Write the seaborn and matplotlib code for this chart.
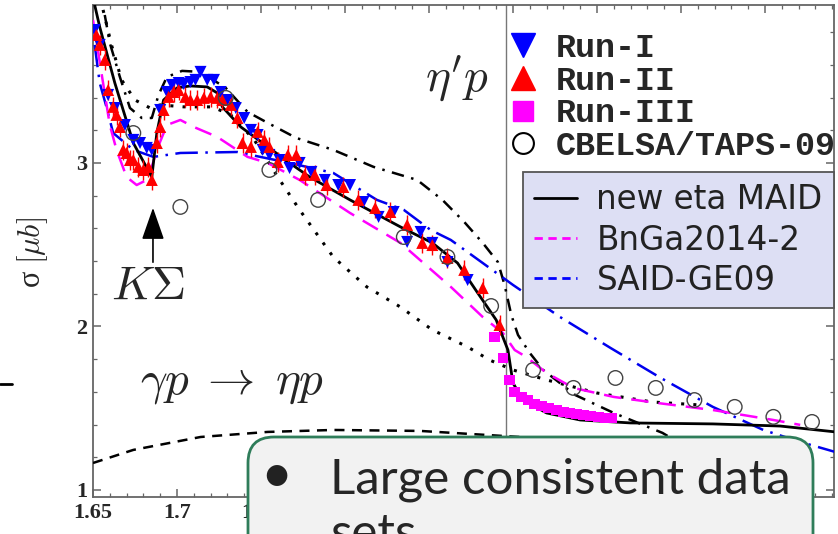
import matplotlib
matplotlib.use("Agg")  # no display here
import matplotlib.pyplot as plt
import seaborn as sns
from matplotlib.lines import Line2D
from matplotlib.patches import FancyBboxPatch
from matplotlib.transforms import IdentityTransform
from matplotlib.ticker import MultipleLocator

sns.set_style("ticks")
plt.rcParams['font.family'] = ['Liberation Serif', 'DejaVu Sans']
plt.rcParams['mathtext.fontset'] = 'cm'

# --- model curves (W in GeV, sigma in mub) ---
maid_w = [1.651, 1.654, 1.663, 1.674, 1.685, 1.688, 1.692, 1.700, 1.708, 1.718, 1.724,
          1.727, 1.738, 1.751, 1.767, 1.779, 1.803, 1.833, 1.852, 1.867, 1.879, 1.890,
          1.897, 1.900, 1.906, 1.920, 1.940, 1.970, 2.019, 2.059, 2.092]
maid_s = [3.966, 3.832, 3.489, 3.122, 2.914, 3.183, 3.385, 3.459, 3.471, 3.465, 3.428,
          3.343, 3.220, 3.122, 3.000, 2.914, 2.774, 2.609, 2.511, 2.388, 2.205, 2.040,
          1.856, 1.654, 1.550, 1.471, 1.428, 1.410, 1.404, 1.391, 1.355]

dashdot_w = [1.657, 1.660, 1.666, 1.672, 1.679, 1.685, 1.689, 1.694, 1.703, 1.714, 1.729,
             1.742, 1.754, 1.771, 1.793, 1.817, 1.843, 1.858, 1.871, 1.882, 1.891, 1.895,
             1.899, 1.903, 1.910, 1.918, 1.937, 1.960, 1.989, 2.011]
dashdot_s = [3.905, 3.734, 3.526, 3.336, 3.275, 3.275, 3.416, 3.526, 3.563, 3.557, 3.459,
             3.312, 3.245, 3.153, 3.080, 2.976, 2.896, 2.774, 2.639, 2.511, 2.394, 2.254,
             2.070, 1.948, 1.838, 1.734, 1.581, 1.471, 1.349, 1.214]

dotted_w = [1.656, 1.661, 1.667, 1.675, 1.684, 1.690, 1.704, 1.721, 1.732, 1.746, 1.760,
            1.773, 1.793, 1.813, 1.833, 1.852, 1.873, 1.886, 1.900, 1.920, 1.950, 1.983, 2.011]
dotted_s = [3.936, 3.722, 3.508, 3.385, 3.336, 3.355, 3.343, 3.343, 3.294, 3.141, 2.914,
            2.713, 2.425, 2.242, 2.119, 1.979, 1.875, 1.795, 1.734, 1.673, 1.593, 1.538, 1.520]

said_w = [1.651, 1.654, 1.658, 1.662, 1.674, 1.686, 1.702, 1.736, 1.744, 1.767, 1.793,
          1.819, 1.835, 1.851, 1.863, 1.882, 1.900, 1.928, 1.958, 1.988, 2.019, 2.049, 2.071, 2.092]
said_s = [3.722, 3.489, 3.343, 3.183, 3.080, 3.037, 3.061, 3.067, 3.049, 3.000, 2.939,
          2.774, 2.713, 2.590, 2.529, 2.388, 2.254, 2.058, 1.869, 1.685, 1.508, 1.367, 1.294, 1.232]

bnga_w = [1.650, 1.656, 1.660, 1.664, 1.670, 1.676, 1.682, 1.685, 1.688, 1.694, 1.702,
          1.710, 1.724, 1.742, 1.754, 1.773, 1.803, 1.833, 1.863, 1.882, 1.894, 1.901,
          1.908, 1.920, 1.936, 1.960, 1.986, 2.019, 2.055, 2.071]
bnga_s = [3.875, 3.489, 3.232, 3.080, 2.914, 2.865, 2.896, 2.976, 3.080, 3.232, 3.263,
          3.220, 3.159, 3.037, 3.000, 2.896, 2.694, 2.511, 2.242, 2.058, 1.960, 1.856,
          1.813, 1.716, 1.624, 1.569, 1.532, 1.489, 1.428, 1.398]

low_w = [1.650, 1.674, 1.714, 1.754, 1.793, 1.845, 1.885, 1.904, 1.952]
low_s = [1.165, 1.245, 1.324, 1.355, 1.367, 1.361, 1.336, 1.324, 1.275]

# --- data sets ---
run1_w = [1.651, 1.654, 1.659, 1.663, 1.669, 1.674, 1.678, 1.682, 1.685, 1.690, 1.694,
          1.697, 1.701, 1.704, 1.708, 1.711, 1.714, 1.718, 1.722, 1.726, 1.730, 1.735,
          1.740, 1.744, 1.748, 1.751, 1.755, 1.761, 1.767, 1.773, 1.780, 1.788, 1.796,
          1.803, 1.811, 1.820, 1.829, 1.837, 1.845, 1.852, 1.861, 1.873]
run1_s = [3.813, 3.722, 3.416, 3.336, 3.232, 3.141, 3.122, 3.092, 3.080, 3.324, 3.434,
          3.477, 3.489, 3.483, 3.495, 3.508, 3.557, 3.508, 3.508, 3.434, 3.385, 3.336,
          3.275, 3.202, 3.171, 3.080, 3.049, 3.018, 2.969, 3.000, 2.945, 2.896, 2.865,
          2.865, 2.761, 2.670, 2.700, 2.517, 2.578, 2.511, 2.394, 2.284]

run2_w = [1.652, 1.654, 1.657, 1.659, 1.662, 1.664, 1.666, 1.668, 1.670, 1.672, 1.674,
          1.677, 1.680, 1.683, 1.685, 1.688, 1.690, 1.692, 1.695, 1.698, 1.701, 1.705,
          1.708, 1.712, 1.716, 1.720, 1.724, 1.727, 1.732, 1.736, 1.739, 1.744, 1.748,
          1.752, 1.755, 1.760, 1.766, 1.771, 1.776, 1.782, 1.789, 1.799, 1.808, 1.818,
          1.827, 1.837, 1.846, 1.852, 1.861, 1.871, 1.882, 1.892]
run2_s = [3.783, 3.722, 3.630, 3.446, 3.343, 3.294, 3.220, 3.080, 3.061, 3.018, 3.018,
          2.976, 2.957, 2.976, 2.896, 3.122, 3.220, 3.324, 3.404, 3.434, 3.446, 3.404,
          3.385, 3.385, 3.398, 3.404, 3.398, 3.385, 3.355, 3.275, 3.122, 3.098, 3.190,
          3.141, 3.098, 3.006, 3.049, 3.049, 2.927, 2.927, 2.865, 2.853, 2.774, 2.725,
          2.700, 2.621, 2.511, 2.498, 2.419, 2.346, 2.235, 2.009]

run3_w = [1.889, 1.894, 1.898, 1.901, 1.905, 1.909, 1.913, 1.917, 1.921, 1.926, 1.930,
          1.934, 1.938, 1.942, 1.946, 1.951, 1.955, 1.959]
run3_s = [1.936, 1.807, 1.673, 1.599, 1.569, 1.550, 1.526, 1.514, 1.502, 1.489, 1.477,
          1.471, 1.465, 1.459, 1.453, 1.447, 1.440, 1.440]

cb_w = [1.674, 1.702, 1.729, 1.755, 1.784, 1.835, 1.861, 1.887, 1.912, 1.936, 1.961,
        1.985, 2.008, 2.032, 2.055, 2.078]
cb_s = [3.183, 2.731, 3.398, 2.957, 2.774, 2.547, 2.425, 2.125, 1.734, 1.624, 1.685,
        1.624, 1.550, 1.508, 1.447, 1.416]

x_ticks = [1.65, 1.7, 1.75, 1.8, 1.85, 1.9, 1.95, 2.0, 2.05]
y_ticks = [1, 2, 3]

W, H = 838, 534
fig = plt.figure(figsize=(W / 100, H / 100), dpi=100)
ax = fig.add_axes([93 / W, 37 / H, 741 / W, 492 / H])

ax.axvline(1.896, color='#777777', lw=1, zorder=1)

def curve(x, y, color, ls, lw=1.8):
    sns.lineplot(x=x, y=y, ax=ax, color=color, lw=lw, linestyle=ls,
                 estimator=None, sort=False, zorder=3)

curve(low_w, low_s, 'black', (0, (4, 3)))
curve(dotted_w, dotted_s, 'black', (0, (1, 3)), lw=2.2)
curve(dashdot_w, dashdot_s, 'black', (0, (5, 3, 1, 3)))
curve(said_w, said_s, '#0000ee', (0, (9, 3, 1, 3)))
curve(bnga_w, bnga_s, '#ff00ff', (0, (7, 4)))

ax.errorbar(run2_w, run2_s, yerr=0.06, fmt='none', ecolor='red', lw=1, zorder=4)
sns.scatterplot(x=run1_w, y=run1_s, ax=ax, marker='v', color='#0000ff', s=75,
                edgecolor='none', zorder=5)
sns.scatterplot(x=run2_w, y=run2_s, ax=ax, marker='^', color='#ff0000', s=75,
                edgecolor='none', zorder=6)
sns.scatterplot(x=run3_w, y=run3_s, ax=ax, marker='s', color='#ff00ff', s=60,
                edgecolor='none', zorder=6)
sns.scatterplot(x=cb_w, y=cb_s, ax=ax, marker='o', facecolor='none',
                edgecolor='#444444', s=110, linewidth=1, zorder=6)

curve(maid_w, maid_s, 'black', '-', lw=2)

ax.set_xlim(1.65, 2.0911)
ax.set_ylim(0.957, 3.966)
ax.set_xticks(x_ticks, labels=['%g' % t for t in x_ticks], fontweight='bold', fontsize=16)
ax.set_yticks(y_ticks, labels=['%g' % t for t in y_ticks], fontweight='bold', fontsize=16)
ax.xaxis.set_minor_locator(MultipleLocator(0.01))
ax.yaxis.set_minor_locator(MultipleLocator(0.2))
ax.tick_params(which='both', direction='in', top=True, right=True, color='#666666')
ax.tick_params(which='major', length=6, width=1.1, pad=4)
ax.tick_params(which='minor', length=3, width=0.9)
for s in ax.spines.values():
    s.set_color('#666666')
    s.set_linewidth(1.3)

fig.text(33 / W, 1 - 253 / H, r'σ $[\mu b]$', rotation=90, ha='center', va='center', fontsize=22)

ax.text(1.8667, 3.52, r"$\eta' p$", fontsize=34, ha='center', va='center')
ax.text(1.6827, 2.235, r'$K\Sigma$', fontsize=34, ha='center', va='center')
ax.text(1.7327, 1.645, r'$\gamma p\;\rightarrow\;\eta p$', fontsize=34, ha='center', va='center')
ax.annotate('', xy=(1.6857, 2.743), xytext=(1.6857, 2.376),
            arrowprops=dict(arrowstyle='-|>,head_length=2.0,head_width=0.7',
                            color='black', lw=1.2))

h1 = [Line2D([], [], ls='none', marker='v', color='#0000ff', markersize=17),
      Line2D([], [], ls='none', marker='^', color='#ff0000', markersize=17),
      Line2D([], [], ls='none', marker='s', color='#ff00ff', markersize=15),
      Line2D([], [], ls='none', marker='o', mfc='none', mec='black', mew=1.5, markersize=15)]
leg1 = ax.legend(h1, ['Run-I', 'Run-II', 'Run-III', 'CBELSA/TAPS-09'], loc='upper left',
                 bbox_to_anchor=(507 / W, 1 - 33 / H), bbox_transform=fig.transFigure,
                 frameon=False, prop={'family': 'Liberation Mono', 'weight': 'bold', 'size': 24},
                 handlelength=0.95, handletextpad=0.5, labelspacing=0.05,
                 borderpad=0, borderaxespad=0)
ax.add_artist(leg1)

h2 = [Line2D([], [], color='black', lw=2),
      Line2D([], [], color='#ff00ff', lw=2, ls=(0, (3, 2))),
      Line2D([], [], color='#0000ff', lw=2, ls=(0, (3, 2)))]
leg2 = ax.legend(h2, ['new eta MAID', 'BnGa2014-2', 'SAID-GE09'], loc='upper left',
                 bbox_to_anchor=(523 / W, 1 - 172 / H), bbox_transform=fig.transFigure,
                 prop={'family': 'DejaVu Sans', 'size': 23.5}, fancybox=False,
                 facecolor='#dddff4', edgecolor='#555555', framealpha=1,
                 handlelength=1.3, handletextpad=0.6, labelspacing=0.22,
                 borderpad=0.35, borderaxespad=0)
leg2.get_frame().set_linewidth(1.3)
for t in leg2.get_texts():
    t.set_color('#222222')

# stray mark at the left slide edge
fig.add_artist(Line2D([0, 12 / W], [1 - 384 / H] * 2, transform=fig.transFigure,
                      color='black', lw=2))

# slide callout box over the lower right part
box = FancyBboxPatch((248, -60), 565, H - 437 + 60, boxstyle='round,pad=0,rounding_size=26',
                     transform=IdentityTransform(), facecolor='#f2f2f2',
                     edgecolor='#2f7d5a', lw=2, zorder=10)
fig.add_artist(box)
fig.text(276 / W, 1 - 477 / H, '•', fontsize=40, family='Lato', color='#222222',
         ha='center', va='center', zorder=11)
fig.text(330 / W, 1 - 493 / H, 'Large consistent data', fontsize=35.5, family='Lato',
         color='#262626', va='baseline', zorder=11)
fig.text(330 / W, 1 - 548 / H, 'sets', fontsize=35.5, family='Lato',
         color='#262626', va='baseline', zorder=11)

fig.savefig('out.png', dpi=100)
